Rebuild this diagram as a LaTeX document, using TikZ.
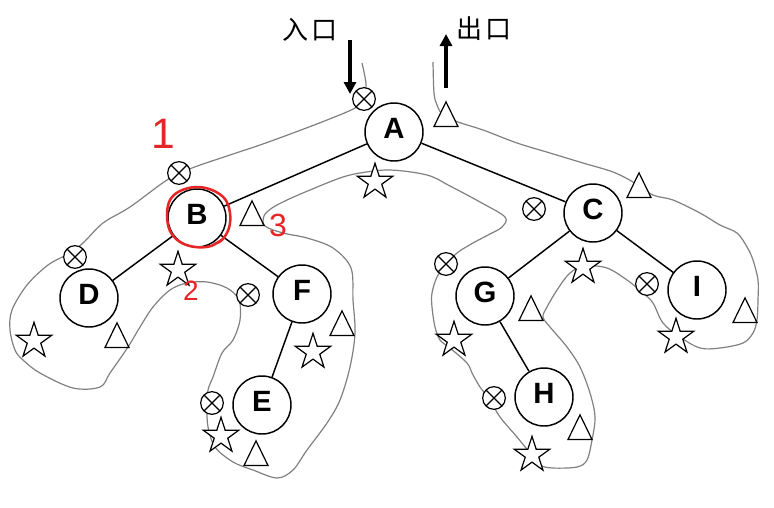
\documentclass[tikz,border=0pt]{standalone}
\usepackage{fontspec}
\setmainfont{Liberation Sans}
\newfontfamily\cjk{Noto Sans CJK SC}
\usetikzlibrary{shapes.geometric,arrows.meta}
\definecolor{contourgray}{RGB}{128,128,128}
\definecolor{annored}{RGB}{228,38,38}
\tikzset{
  treenode/.style={circle,draw,line width=1.1pt,fill=white,minimum size=43.5pt,inner sep=0pt,
    font=\fontsize{22}{22}\selectfont\bfseries,text height=16pt,text depth=6pt},
  edge/.style={line width=1.1pt},
  contour/.style={draw=contourgray,line width=0.9pt},
  otimes/.style={circle,draw,line width=0.9pt,fill=white,minimum size=17pt,inner sep=0pt,
    path picture={\draw[line width=0.9pt] (path picture bounding box.south west) -- (path picture bounding box.north east)
      (path picture bounding box.north west) -- (path picture bounding box.south east);}},
  tri/.style={isosceles triangle,isosceles triangle stretches,shape border rotate=90,draw,line width=0.9pt,
    fill=white,minimum width=18pt,minimum height=18.5pt,inner sep=0pt},
  starmark/.style={star,star points=5,star point ratio=2.618,draw,line width=0.9pt,fill=white,
    minimum size=28pt,inner sep=0pt},
  bigarrow/.style={line width=3pt,-{Triangle[width=9pt,length=9pt]}},
  cjklabel/.style={font=\cjk\fontsize{19.5}{20}\selectfont},
  redmark/.style={text=annored,inner sep=0pt},
}
\begin{document}
\begin{tikzpicture}[x=0.75pt,y=-0.75pt]
\useasboundingbox (0,0) rectangle (774,507);
% Euler-tour contour
\draw[contour] plot[smooth,tension=0.55] coordinates {
 (362,63) (365,77) (366,88) (362,99) (355,108) (327,120) (293,133) (260,145) (230,155)
 (192,168) (167,180) (130,207) (103,223) (83,243) (68,254) (48,265) (27,285) (12,310)
 (10,330) (15,350) (23,360) (40,373) (73,388) (100,387) (110,373) (128,347) (140,327)
 (153,307) (170,290) (187,283) (207,282) (227,288) (239,300) (240,320) (233,340)
 (222,353) (213,377) (208,390) (207,407) (208,427) (215,447) (233,462) (253,470)
 (277,478) (293,470) (307,450) (327,423) (340,400) (350,367) (355,333) (353,300)
 (351,268) (333,248) (307,238) (283,233) (265,226) (264,216) (272,208) (287,200)
 (310,190) (340,178) (360,173) (390,170) (427,175) (450,186) (480,202) (505,217)
 (502,227) (490,234) (473,243) (457,253) (446,265) (437,277) (432,293) (432,307)
 (435,327) (440,340) (450,348) (467,363) (472,373) (480,387) (490,400) (500,417)
 (517,437) (530,453) (540,465) (553,468) (577,467) (587,460) (592,440) (595,417)
 (590,393) (580,367) (567,347) (550,327) (543,317) (547,307) (557,290) (570,273)
 (585,266) (607,268) (627,280) (643,293) (653,303) (663,323) (680,337) (700,348)
 (720,348) (743,343) (753,333) (757,320) (758,300) (758,280) (753,260) (747,247)
 (737,233) (720,225) (700,213) (673,200) (653,195) (633,182) (613,172) (583,163)
 (550,153) (517,143) (483,130) (458,122) (443,115) (437,105) (434,93) (433,62)
};
% tree nodes
\node[treenode] (A) at (394,132) {A};
\node[treenode] (B) at (197,218) {B};
\node[treenode] (C) at (593,213) {C};
\node[treenode] (D) at (89,298) {D};
\node[treenode] (F) at (302,294) {F};
\node[treenode] (E) at (262,405) {E};
\node[treenode] (G) at (485,296) {G};
\node[treenode] (H) at (544,397) {H};
\node[treenode] (I) at (697,290) {I};
\draw[edge] (A) -- (B);
\draw[edge] (A) -- (C);
\draw[edge] (B) -- (D);
\draw[edge] (B) -- (F);
\draw[edge] (F) -- (E);
\draw[edge] (C) -- (G);
\draw[edge] (C) -- (I);
\draw[edge] (G) -- (H);
% otimes markers
\node[otimes] (xA) at (364,99) {};
\node[otimes] (xB) at (179,173) {};
\node[otimes] (xD) at (75,257) {};
\node[otimes] (xF) at (248,295) {};
\node[otimes] (xE) at (212,403) {};
\node[otimes] (xC) at (534,209) {};
\node[otimes] (xG) at (446,264) {};
\node[otimes] (xI) at (647,284) {};
\node[otimes] (xH) at (494,398) {};
% triangles
\node[tri] (tA) at (446,119) {};
\node[tri] (tB) at (252,218) {};
\node[tri] (tD) at (117,340) {};
\node[tri] (tF) at (342,328) {};
\node[tri] (tE) at (256,458) {};
\node[tri] (tC) at (639,190) {};
\node[tri] (tG) at (531,313) {};
\node[tri] (tI) at (745,315) {};
\node[tri] (tH) at (580,432) {};
% stars
\node[starmark] (sA) at (375,182) {};
\node[starmark] (sB) at (178,270) {};
\node[starmark] (sD) at (34,341) {};
\node[starmark] (sF) at (313,352) {};
\node[starmark] (sE) at (221,436) {};
\node[starmark] (sC) at (583,267) {};
\node[starmark] (sG) at (454,340) {};
\node[starmark] (sI) at (676,337) {};
\node[starmark] (sH) at (532,455) {};
% entry / exit
\coordinate (in1) at (350,40);
\coordinate (in2) at (350,94);
\draw[bigarrow] (in1) -- (in2);
\coordinate (out1) at (446,88);
\coordinate (out2) at (446,34);
\draw[bigarrow] (out1) -- (out2);
\node[cjklabel] (entry) at (310,30) {入\kern3pt口};
\node[cjklabel] (exit) at (484,29) {出\kern3pt口};
% red annotations
\draw[annored,line width=1.9pt] plot[smooth,tension=0.6] coordinates {
 (224,238) (211,246) (195,247) (180,242) (170,231) (167,215) (170,200) (180,191)
 (196,187) (212,190) (225,199) (230,213) (229,228) (222,240) (214,244)};
\node[redmark,font=\fontsize{32}{32}\selectfont] (n1) at (163,134) {1};
\node[redmark,font=\fontsize{21}{21}\selectfont] (n2) at (191,291) {2};
\node[redmark,font=\fontsize{24}{24}\selectfont] (n3) at (278,225) {3};
\end{tikzpicture}
\end{document}
